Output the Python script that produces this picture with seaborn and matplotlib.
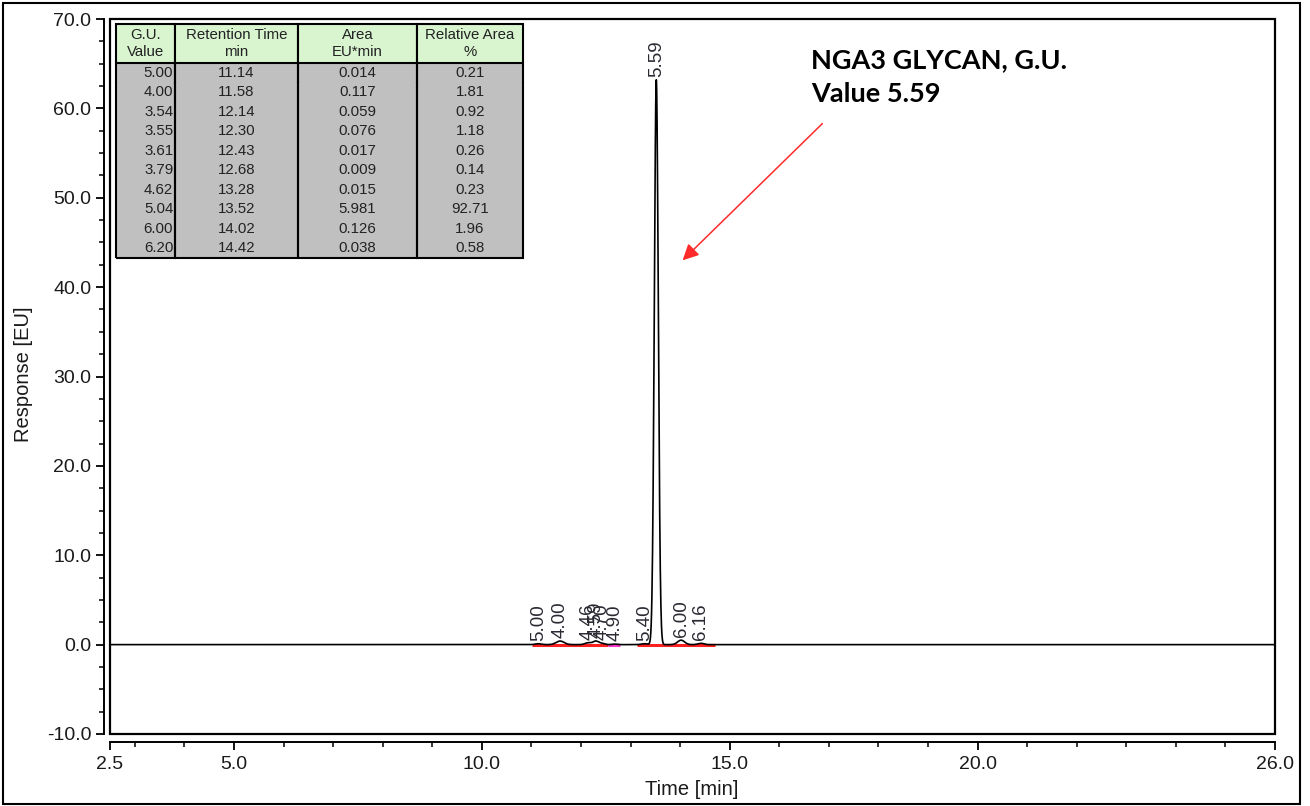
import numpy as np
import pandas as pd
import seaborn as sns
import matplotlib.pyplot as plt
from matplotlib.patches import Rectangle
from matplotlib.ticker import MultipleLocator, FormatStrFormatter

# ----------------------------------------
# Data
# ----------------------------------------
peak_rt = [11.14, 11.58, 12.14, 12.30, 12.43, 12.68, 13.28, 13.52, 14.02, 14.42]
peak_height = [0.10, 0.40, 0.20, 0.40, 0.12, 0.06, 0.10, 63.2, 0.50, 0.15]
peak_width = [0.06, 0.08, 0.06, 0.06, 0.05, 0.05, 0.06, 0.040, 0.07, 0.06]
peak_labels = ["5.00", "4.00", "4.46", "4.59", "4.70", "4.90", "5.40", "5.59", "6.00", "6.16"]

# integration baselines drawn under the trace
base_start = [11.01, 12.54, 13.13]
base_end = [12.54, 12.78, 14.70]
base_color = ["#ff2020", "#ff33cc", "#ff2020"]

# peak table
tbl_header = ["G.U.\nValue", "Retention Time\nmin", "Area\nEU*min", "Relative Area\n%"]
gu_value = ["5.00", "4.00", "3.54", "3.55", "3.61", "3.79", "4.62", "5.04", "6.00", "6.20"]
ret_time = ["11.14", "11.58", "12.14", "12.30", "12.43", "12.68", "13.28", "13.52", "14.02", "14.42"]
area = ["0.014", "0.117", "0.059", "0.076", "0.017", "0.009", "0.015", "5.981", "0.126", "0.038"]
rel_area = ["0.21", "1.81", "0.92", "1.18", "0.26", "0.14", "0.23", "92.71", "1.96", "0.58"]

# build the trace as a sum of peaks
t = np.arange(2.5, 26.0001, 0.004)
signal = np.zeros_like(t)
for rt, h, w in zip(peak_rt, peak_height, peak_width):
    signal += h * np.exp(-0.5 * ((t - rt) / w) ** 2)
trace = pd.DataFrame({"time": t, "response": signal})

# ----------------------------------------
# Plot
# ----------------------------------------
sns.set_theme(style="white")
plt.rcParams["font.family"] = ["Liberation Sans", "DejaVu Sans"]

fig = plt.figure(figsize=(13.1, 8.06), dpi=100)
ax = fig.add_axes([110 / 1310, 1 - 734 / 806, 1165 / 1310, 715 / 806])

for s, e, c in zip(base_start, base_end, base_color):
    ax.hlines(0, s, e, color=c, lw=2.2, zorder=2)

sns.lineplot(data=trace, x="time", y="response", color="black", lw=1.2, ax=ax, zorder=3)

for rt, h, lab in zip(peak_rt, peak_height, peak_labels):
    ax.text(rt, h + 0.35, lab, rotation=90, ha="center", va="bottom",
            fontsize=13.5, color="#2a2a33", zorder=4)

ax.set_xlim(2.5, 26.0)
ax.set_ylim(-10, 70)
ax.set_xticks([2.5, 5, 10, 15, 20, 26])
ax.xaxis.set_major_formatter(FormatStrFormatter("%.1f"))
ax.xaxis.set_minor_locator(MultipleLocator(1))
ax.yaxis.set_major_locator(MultipleLocator(10))
ax.yaxis.set_major_formatter(FormatStrFormatter("%.1f"))
ax.yaxis.set_minor_locator(MultipleLocator(2.5))

for side in ["top", "right"]:
    ax.spines[side].set_visible(False)
ax.spines["left"].set_position(("outward", 4))
ax.spines["bottom"].set_position(("outward", 6))
for side in ["left", "bottom"]:
    ax.spines[side].set_color("black")
    ax.spines[side].set_linewidth(1.4)
ax.add_patch(Rectangle((0, 0), 1, 1, transform=ax.transAxes, fill=False,
                       ec="black", lw=1.6, clip_on=False, zorder=5))

ax.tick_params(which="major", direction="out", length=6, width=1.3, color="black",
               labelsize=14, labelcolor="#1a1a1a", left=True, bottom=True)
ax.tick_params(which="minor", direction="out", length=3.5, width=1.1, color="black",
               left=True, bottom=True)

ax.set_xlabel("Time [min]", fontsize=14.5, color="#1a1a1a")
ax.set_ylabel("Response [EU]", fontsize=14.5, color="#1a1a1a")
ax.xaxis.set_label_coords(0.4996, -0.064)
ax.yaxis.set_label_coords(-0.0665, 0.5035)

# annotation with arrow
ax.annotate("", xy=(14.05, 43.0), xytext=(16.87, 58.3),
            arrowprops=dict(arrowstyle="-|>", color="#ff2a2a", lw=1.1,
                            mutation_scale=24, shrinkA=0, shrinkB=0))
ax.text(16.65, 66.7, "NGA3 GLYCAN, G.U.\nValue 5.59", ha="left", va="top",
        fontsize=19.5, fontweight="bold", family=["Lato", "DejaVu Sans"],
        linespacing=1.5, color="black")

# peak table
tx0, tw = 6 / 1165, 407 / 1165
ty0, th = 1 - 239 / 715, 234 / 715
nrows = len(gu_value)
# grey background under the body rows
ax.add_patch(Rectangle((tx0, ty0), tw, th * nrows / (nrows + 2), transform=ax.transAxes,
                       fc="#c0c0c0", ec="none", zorder=5.5))
cell_text = [list(r) for r in zip(gu_value, ret_time, area, rel_area)]
widths = np.array([59, 123, 119, 106], dtype=float)
widths = widths / widths.sum()
tbl = ax.table(cellText=cell_text, colLabels=tbl_header, colWidths=list(widths),
               cellLoc="center", bbox=[tx0, ty0, tw, th], zorder=6)
tbl.auto_set_font_size(False)
tbl.set_fontsize(10.8)
for (r, c), cell in tbl.get_celld().items():
    cell.set_linewidth(1.5)
    cell.set_edgecolor("black")
    cell.get_text().set_color("#222222")
    if r == 0:
        cell.set_facecolor("#d8f5d0")
        cell.set_height(2.0)
        cell.visible_edges = "closed"
    else:
        cell.set_facecolor("none")
        cell.set_height(1.0)
        cell.visible_edges = "LRB" if r == nrows else "LR"
        if c == 0:
            cell._loc = "right"
            cell.PAD = 0.03
            cell.get_text().set_ha("right")

# outer frame of the figure
fig.add_artist(Rectangle((3 / 1310, 2 / 806), 1297 / 1310, 801 / 806,
                         transform=fig.transFigure, fill=False, ec="black", lw=1.5))

fig.savefig("out.png", dpi=100)
